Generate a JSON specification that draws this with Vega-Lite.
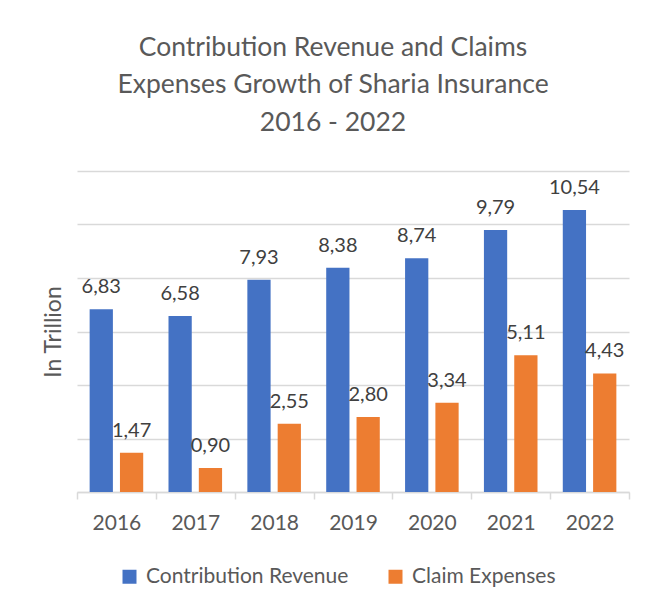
{
  "$schema": "https://vega.github.io/schema/vega-lite/v6.json",
  "width": 552,
  "height": 321,
  "autosize": "none",
  "padding": {"left": 77, "top": 171, "right": 26, "bottom": 118},
  "background": "white",
  "config": {
    "view": {"stroke": null},
    "font": "Lato",
    "locale": {"number": {"decimal": ",", "thousands": ".", "grouping": [3], "currency": ["", ""]}}
  },
  "title": {
    "text": ["Contribution Revenue and Claims", "Expenses Growth of Sharia Insurance", "2016 - 2022"],
    "anchor": "middle",
    "dx": -20,
    "offset": 35,
    "fontSize": 26.5,
    "lineHeight": 37.5,
    "font": "Lato",
    "fontWeight": "normal",
    "color": "#595959"
  },
  "data": {
    "values": [
      {"year": "2016", "series": "Contribution Revenue", "value": 6.83},
      {"year": "2016", "series": "Claim Expenses", "value": 1.47},
      {"year": "2017", "series": "Contribution Revenue", "value": 6.58},
      {"year": "2017", "series": "Claim Expenses", "value": 0.90},
      {"year": "2018", "series": "Contribution Revenue", "value": 7.93},
      {"year": "2018", "series": "Claim Expenses", "value": 2.55},
      {"year": "2019", "series": "Contribution Revenue", "value": 8.38},
      {"year": "2019", "series": "Claim Expenses", "value": 2.80},
      {"year": "2020", "series": "Contribution Revenue", "value": 8.74},
      {"year": "2020", "series": "Claim Expenses", "value": 3.34},
      {"year": "2021", "series": "Contribution Revenue", "value": 9.79},
      {"year": "2021", "series": "Claim Expenses", "value": 5.11},
      {"year": "2022", "series": "Contribution Revenue", "value": 10.54},
      {"year": "2022", "series": "Claim Expenses", "value": 4.43}
    ]
  },
  "encoding": {
    "x": {
      "field": "year",
      "type": "nominal",
      "scale": {"paddingInner": 0, "paddingOuter": 0},
      "axis": {
        "title": null,
        "labelAngle": 0,
        "labelFontSize": 21,
        "labelColor": "#595959",
        "labelFont": "Lato",
        "labelPadding": 13,
        "tickBand": "extent",
        "tickColor": "#d9d9d9",
        "tickSize": 7,
        "tickWidth": 1.5,
        "domainColor": "#d9d9d9",
        "domainWidth": 1.5,
        "grid": false
      }
    },
    "xOffset": {
      "field": "series",
      "type": "nominal",
      "sort": ["Contribution Revenue", "Claim Expenses"],
      "scale": {"paddingInner": 0.233, "paddingOuter": 0.417}
    },
    "y": {
      "field": "value",
      "type": "quantitative",
      "scale": {"domain": [0, 12]},
      "axis": {
        "title": "In Trillion",
        "titleFontSize": 23,
        "titleFontWeight": "normal",
        "titleColor": "#595959",
        "titleFont": "Lato",
        "titlePadding": 12,
        "labels": false,
        "ticks": false,
        "domain": false,
        "values": [0, 2, 4, 6, 8, 10, 12],
        "gridColor": "#d9d9d9",
        "gridWidth": 1.5
      }
    }
  },
  "layer": [
    {
      "mark": {"type": "bar"},
      "encoding": {
        "color": {
          "field": "series",
          "type": "nominal",
          "sort": ["Contribution Revenue", "Claim Expenses"],
          "scale": {"domain": ["Contribution Revenue", "Claim Expenses"], "range": ["#4472C4", "#ED7D31"]},
          "legend": {
            "title": null,
            "orient": "none",
            "direction": "horizontal",
            "legendX": 42,
            "legendY": 395,
            "padding": 0,
            "symbolType": "square",
            "symbolSize": 196,
            "symbolStrokeWidth": 0,
            "symbolOpacity": 1,
            "labelFontSize": 21,
            "labelLimit": 400,
            "labelColor": "#595959",
            "labelFont": "Lato",
            "labelOffset": 6,
            "columnPadding": 36
          }
        }
      }
    },
    {
      "mark": {"type": "text", "baseline": "alphabetic", "dy": -16, "fontSize": 20, "color": "#404040", "font": "Lato"},
      "encoding": {
        "text": {"field": "value", "type": "quantitative", "format": ".2f"}
      }
    }
  ]
}
